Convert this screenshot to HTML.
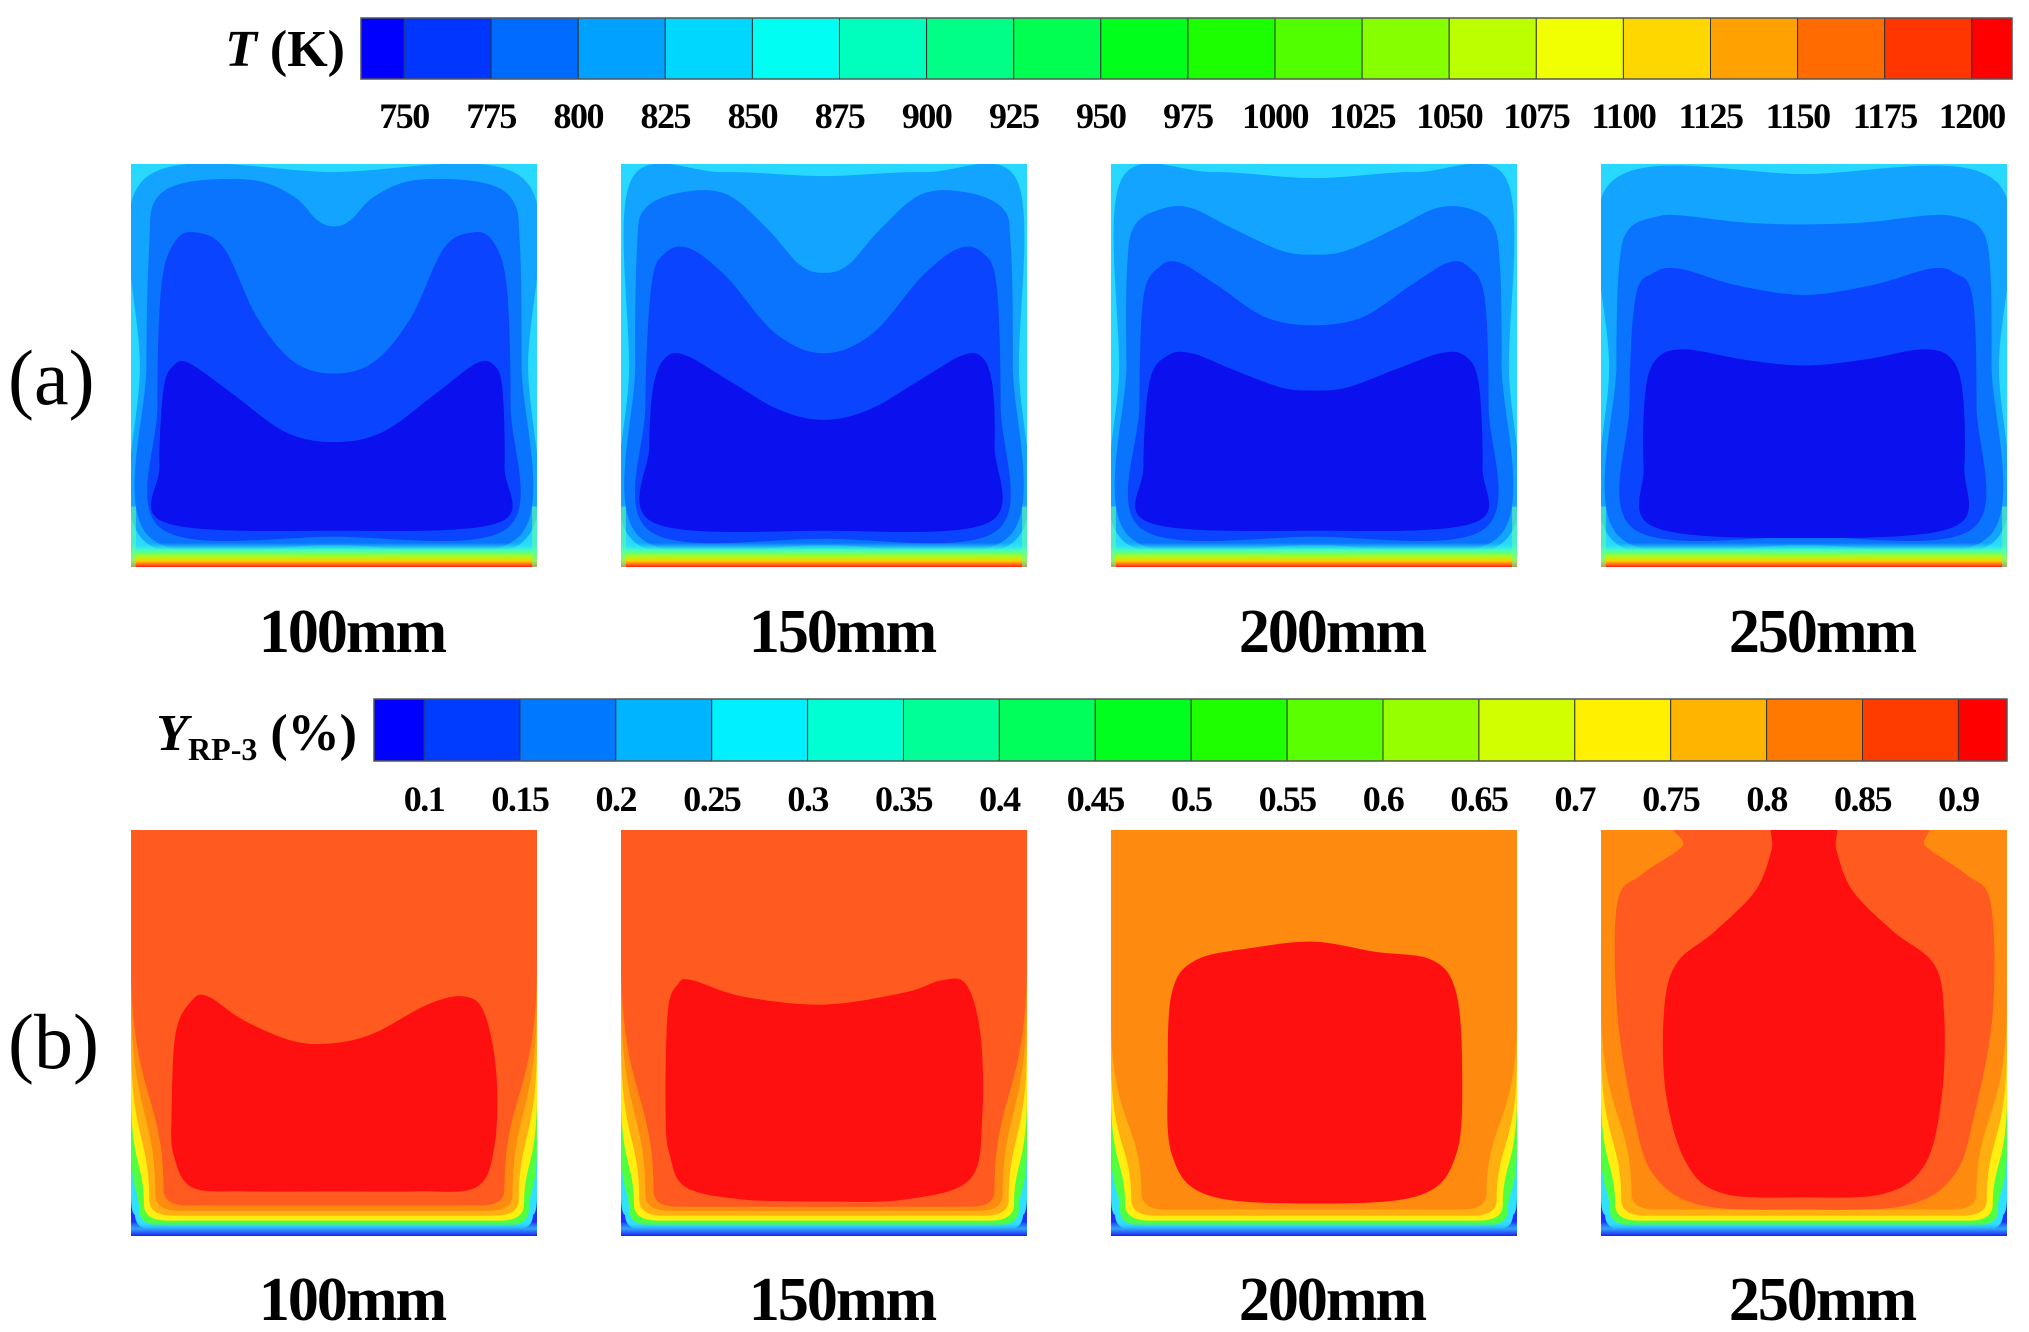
<!DOCTYPE html>
<html><head><meta charset="utf-8"><style>
html,body{margin:0;padding:0;background:#fff;width:2029px;height:1332px;overflow:hidden}
svg text{font-family:"Liberation Serif",serif;font-weight:bold;fill:#000}
</style></head><body>
<svg id="fig" xmlns="http://www.w3.org/2000/svg" width="2029" height="1332" viewBox="0 0 2029 1332">
<defs>
<linearGradient id="gT" x1="0" y1="0" x2="0" y2="1">
<stop offset="0" stop-color="#30e0ff" stop-opacity="0"/><stop offset="0.3" stop-color="#40ffc0"/><stop offset="0.55" stop-color="#a0ff20"/><stop offset="0.75" stop-color="#ffd000"/><stop offset="1" stop-color="#ff2020"/>
</linearGradient>
<linearGradient id="gY" x1="0" y1="0" x2="0" y2="1">
<stop offset="0" stop-color="#30e0ff" stop-opacity="0"/><stop offset="0.5" stop-color="#30a0ff"/><stop offset="1" stop-color="#2020ee"/>
</linearGradient>
</defs>
</svg>
<script>
// ---- colorbar data ----
const tTicks = [750,775,800,825,850,875,900,925,950,975,1000,1025,1050,1075,1100,1125,1150,1175,1200];
const yTicks = [0.1,0.15,0.2,0.25,0.3,0.35,0.4,0.45,0.5,0.55,0.6,0.65,0.7,0.75,0.8,0.85,0.9];
const yTickLabels = ["0.1","0.15","0.2","0.25","0.3","0.35","0.4","0.45","0.5","0.55","0.6","0.65","0.7","0.75","0.8","0.85","0.9"];
const panelLabels = ["100mm","150mm","200mm","250mm"];
// ---- contour shapes (normalized 0-1000) ----
const tColors = ["#12a4ff","#0a74ff","#0a44ff","#0a10ee"];
const tA1 = [
 [[30,40],[500,20],[970,40],[978,500],[968,935],[500,955],[32,935],[22,500]],
 [[45,200],[60,90],[140,45],[300,40],[400,80],[460,140],[500,155],[540,140],[600,80],[700,40],[860,45],[940,90],[958,200],[962,500],[955,925],[500,945],[45,925],[38,500]],
 [[65,600],[75,300],[110,190],[160,170],[230,210],[310,380],[400,490],[500,520],[600,490],[690,380],[770,210],[840,170],[890,190],[925,300],[935,600],[925,905],[500,925],[75,905]],
 [[70,750],[80,560],[105,500],[145,495],[250,570],[380,665],[500,690],[620,665],[750,570],[850,495],[895,500],[915,560],[920,750],[905,890],[500,910],[85,890]]];
const tA2 = [
 [[25,40],[250,20],[500,30],[750,20],[975,40],[980,500],[970,935],[500,955],[30,935],[20,500]],
 [[40,200],[60,110],[150,70],[260,75],[360,160],[440,250],[500,270],[560,250],[640,160],[740,75],[850,70],[940,110],[960,200],[965,500],[955,925],[500,945],[45,925],[35,500]],
 [[60,600],[75,300],[110,220],[170,210],[260,280],[380,420],[500,470],[620,420],[740,280],[830,210],[890,220],[925,300],[935,600],[925,910],[500,930],[70,910]],
 [[70,700],[80,550],[110,480],[160,475],[270,540],[390,610],[500,635],[610,610],[730,540],[840,475],[890,480],[915,550],[920,700],[905,890],[500,910],[80,890]]];
const tA3 = [
 [[25,40],[250,20],[500,35],[750,20],[975,40],[980,500],[970,935],[500,955],[30,935],[20,500]],
 [[40,250],[60,150],[130,110],[200,110],[300,160],[420,215],[500,225],[580,215],[700,160],[800,110],[880,110],[940,150],[958,250],[962,500],[955,925],[500,945],[45,925],[38,500]],
 [[70,600],[80,330],[120,255],[170,245],[260,300],[380,380],[500,400],[620,380],[740,300],[830,245],[880,255],[920,330],[930,600],[920,905],[500,925],[75,905]],
 [[80,750],[95,540],[140,475],[200,470],[300,510],[420,555],[500,562],[580,555],[700,510],[810,470],[870,475],[905,540],[915,750],[895,890],[500,910],[95,890]]];
const tA4 = [
 [[25,45],[500,25],[975,45],[980,500],[970,935],[500,955],[30,935],[20,500]],
 [[45,250],[70,160],[140,130],[200,128],[350,145],[500,150],[650,145],[800,128],[870,130],[935,160],[958,250],[962,500],[955,925],[500,945],[45,925],[38,500]],
 [[70,600],[85,330],[130,270],[195,260],[330,300],[500,325],[670,300],[810,260],[870,270],[915,330],[925,600],[915,905],[500,925],[80,905]],
 [[105,750],[110,560],[140,480],[210,460],[350,485],[500,500],[650,485],[790,460],[860,480],[890,560],[895,750],[870,900],[500,928],[130,900]]];
// Y panels: side bands [s, d, b] and colors
const yBandColors = ["#30e0ff","#50ff40","#ffee10","#ffb010","#ff8a10","#ff5a20"];
const yB1 = [[900,10,988],[780,20,975],[650,32,962],[520,45,950],[400,60,938],[320,80,925]];
const yB2 = [[900,10,988],[780,20,975],[650,32,962],[520,45,950],[400,60,938],[310,80,928]];
const yB3 = [[900,10,988],[780,22,975],[650,35,962],[560,50,950],[460,75,935]];
const yB4 = [[900,10,988],[780,22,975],[650,35,962],[530,50,950],[420,75,935]];
const redB1 = [[100,700],[110,500],[150,420],[190,410],[280,470],[400,520],[500,525],[600,500],[730,430],[820,410],[870,450],[900,600],[895,780],[850,880],[700,890],[500,890],[280,890],[150,880],[105,800]];
const redB2 = [[110,700],[115,450],[140,380],[175,370],[300,410],[500,430],[700,400],[790,370],[850,380],[885,500],[890,700],[860,860],[700,910],[500,915],[300,910],[160,880],[120,800]];
const redB3 = [[140,600],[150,400],[210,320],[350,290],[500,275],[650,300],[790,320],[850,400],[865,600],[850,800],[760,900],[500,920],[240,900],[150,800]];
const orB4 = [[220,-20],[760,-20],[800,40],[900,110],[960,180],[965,450],[920,700],[870,850],[750,925],[500,935],[250,925],[130,850],[80,700],[40,450],[40,180],[100,110],[200,40]];
const redB4 = [[430,-20],[570,-20],[580,50],[620,150],[720,250],[820,330],[845,450],[840,650],[800,820],[700,895],[500,905],[300,895],[210,820],[160,650],[155,450],[185,330],[280,250],[380,150],[420,50]];

const NS="http://www.w3.org/2000/svg";
const fig=document.getElementById('fig');
function mk(tag,attrs,parent){const e=document.createElementNS(NS,tag);for(const k in attrs)e.setAttribute(k,attrs[k]);(parent||fig).appendChild(e);return e;}
function smooth(pts){
 const n=pts.length;let d=`M${pts[0][0]},${pts[0][1]}`;
 for(let i=0;i<n;i++){const p0=pts[(i-1+n)%n],p1=pts[i],p2=pts[(i+1)%n],p3=pts[(i+2)%n];
  const c1=[p1[0]+(p2[0]-p0[0])/6,p1[1]+(p2[1]-p0[1])/6],c2=[p2[0]-(p3[0]-p1[0])/6,p2[1]-(p3[1]-p1[1])/6];
  d+=`C${c1[0]},${c1[1]} ${c2[0]},${c2[1]} ${p2[0]},${p2[1]}`;}
 return d+'Z';}
function uPath(s,d,b){
 const m=s+(b-s)*0.55;
 return `M-30,-30 H1030 V${s} L1000,${s} C1000,${m} ${1000-d},${m} ${1000-d},${b-40} Q${1000-d},${b} ${1000-d-60},${b} H${d+60} Q${d},${b} ${d},${b-40} C${d},${m} 0,${m} 0,${s} L-30,${s} Z`;}

function tx(v){return 404+(v-750)/25*87.1;}
function yx(v){return 424+(v-0.1)/0.05*95.9;}
function hueColor(i,n){const h=240*(1-i/(n-1));return `hsl(${h},100%,50%)`;}
function colorbar(name,x0,x1,y0,y1,ticks,xf,labels,ly){
 const g=mk('g',{});
 
 
 const edges=[x0].concat(ticks.map(xf)).concat([x1]);
 for(let i=0;i<edges.length-1;i++){
  const r=mk('rect',{x:edges[i],y:y0,width:edges[i+1]-edges[i],height:y1-y0,fill:hueColor(i,edges.length-1),stroke:'#333','stroke-width':1},g);
  
  
 }
 mk('rect',{x:x0,y:y0,width:x1-x0,height:y1-y0,fill:'none',stroke:'#555','stroke-width':1.5},g);
 ticks.forEach((v,i)=>{const t=mk('text',{x:xf(v),y:ly,'text-anchor':'middle','font-size':36,'letter-spacing':-1.5},g);t.textContent=labels[i];
  
  });
}
colorbar('temperature-colorbar',361,2012,18,79,tTicks,tx,tTicks.map(String),128);
colorbar('yrp3-colorbar',374,2007,699,761,yTicks,yx,yTickLabels,811);

const px=[131,621,1111,1601],pw=406;
function panel(name,x,y,h){const s=mk('svg',{x:x,y:y,width:pw,height:h,viewBox:'0 0 1000 1000',preserveAspectRatio:'none'});
 
 return s;}
const tSets=[tA1,tA2,tA3,tA4];
tSets.forEach((set,k)=>{
 const s=panel('temperature-contour-'+panelLabels[k],px[k],164,403);
 mk('rect',{x:0,y:0,width:1000,height:1000,fill:'#28d8ff'},s);
 set.forEach((pts,i)=>{const p=mk('path',{d:smooth(pts),fill:tColors[i]},s);
  
  });
 mk('rect',{x:0,y:940,width:1000,height:60,fill:'url(#gT)'},s);
 mk('rect',{x:0,y:850,width:12,height:150,fill:'#60ffa0',opacity:0.6},s);
 mk('rect',{x:988,y:850,width:12,height:150,fill:'#60ffa0',opacity:0.6},s);
});
const yBands=[yB1,yB2,yB3,yB4],reds=[redB1,redB2,redB3,redB4];
yBands.forEach((bands,k)=>{
 const s=panel('yrp3-contour-'+panelLabels[k],px[k],830,406);
 mk('rect',{x:0,y:0,width:1000,height:1000,fill:'#2030ff'},s);
 bands.forEach((b,i)=>{const p=mk('path',{d:uPath(b[0],b[1],b[2]),fill:yBandColors[i]},s);
  
  });
 if(k===3){const p=mk('path',{d:smooth(orB4),fill:'#ff5a20'},s);
  
  }
 const r=mk('path',{d:smooth(reds[k]),fill:'#ff1010'},s);
 
 
 mk('rect',{x:0,y:965,width:1000,height:35,fill:'url(#gY)'},s);
});
panelLabels.forEach((l,k)=>{[652,1320].forEach((yy,j)=>{
 const t=mk('text',{x:px[k]+pw/2+18,y:yy,'text-anchor':'middle','font-size':62,'letter-spacing':-2});t.textContent=l;
 
 });});
function txt(name,x,y,size,html,anchor,weight){const t=mk('text',{x:x,y:y,'font-size':size,'text-anchor':anchor||'start'});
 if(weight)t.setAttribute('style','font-weight:'+weight);t.innerHTML=html;
 
 return t;}
txt('row-a-label',8,404,78,'(a)','start','normal');
txt('row-b-label',8,1068,78,'(b)','start','normal');
txt('temperature-colorbar-title',345,66,52,'<tspan font-style="italic">T</tspan> (K)','end');
txt('yrp3-colorbar-title',357,750,52,'<tspan font-style="italic">Y</tspan><tspan font-size="32" dy="10">RP-3</tspan><tspan dy="-10"> (%)</tspan>','end');
</script>
</body></html>
